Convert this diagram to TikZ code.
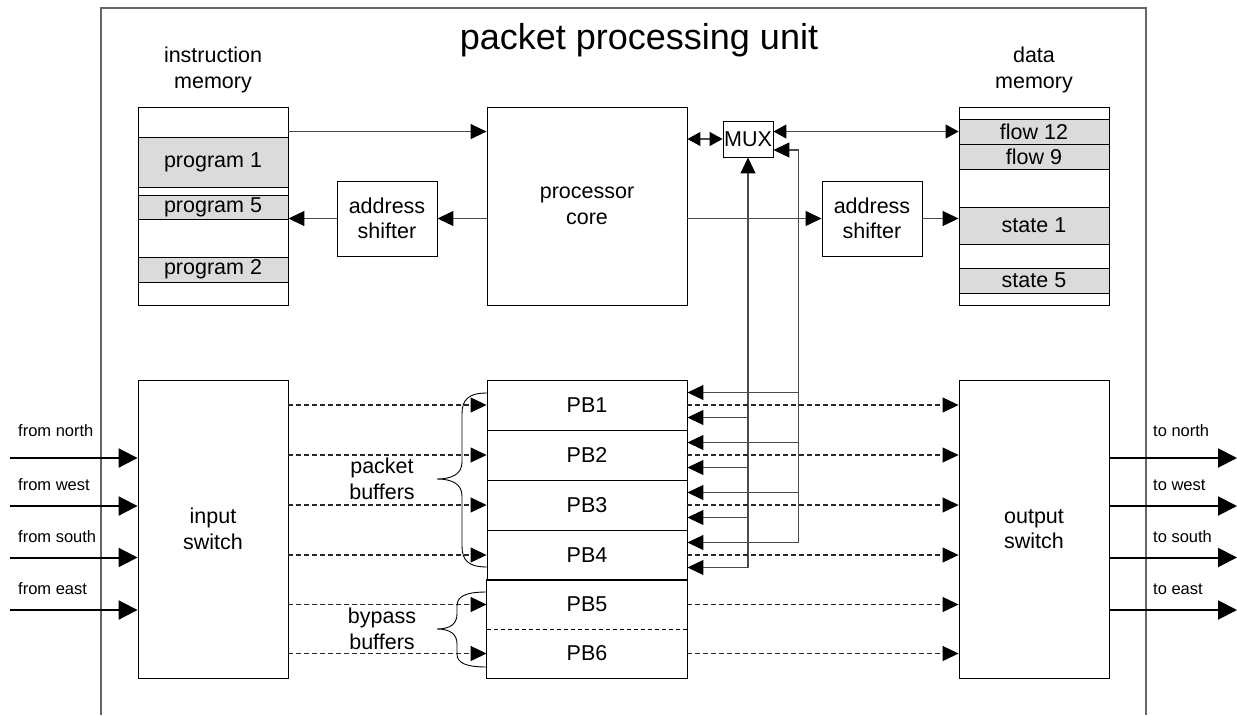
\documentclass[tikz,border=0pt]{standalone}
\usepackage{fontspec}
\setmainfont{Liberation Sans}
\usetikzlibrary{arrows.meta,calc}
\begin{document}
\begin{tikzpicture}[x=1pt,y=-1pt,
  box/.style={draw=black,line width=0.9pt,inner sep=0pt,font=\fontsize{21.5}{25.5}\selectfont,align=center},
  band/.style={box,fill=black!14},
  cl/.style={draw=black!70,line width=1.1pt},
  arr/.style={cl,-{Triangle[length=16pt,width=15pt,color=black]}},
  darr/.style={cl,{Triangle[length=13pt,width=14pt,color=black]}-{Triangle[length=13pt,width=14pt,color=black]}},
  dsh/.style={arr,draw=black!85,dash pattern=on 5pt off 3pt},
  big/.style={draw=black,line width=2pt,-{Triangle[length=19pt,width=19pt]}},
  lbl/.style={font=\fontsize{21.5}{26}\selectfont,align=center,inner sep=0pt},
  ttl/.style={font=\fontsize{36}{40}\selectfont,inner sep=0pt},
  sml/.style={font=\fontsize{16.5}{19}\selectfont,anchor=west,inner sep=0pt},
  brc/.style={draw=black,line width=0.9pt},
]
\useasboundingbox (0,0) rectangle (1237,715);
\fill[white] (0,0) rectangle (1237,715);
% outer unit
\draw[draw=black!60,line width=1.1pt] (101,715) -- (101,8) -- (1146,8) -- (1146,715);
\node[ttl] (title) at (639,40) {packet processing unit};
\node[lbl] (iml) at (213,70) {instruction\\memory};
\node[lbl] (dml) at (1034,70) {data\\memory};

% instruction memory
\node[box,minimum width=150pt,minimum height=198pt] (imem) at (213,206) {};
\node[band,minimum width=150pt,minimum height=50pt] (p1) at (213,162) {program 1};
\node[band,minimum width=150pt,minimum height=24pt] (p5) at (213,207) {program 5};
\node[band,minimum width=150pt,minimum height=25pt] (p2) at (213,269.5) {program 2};

% data memory
\node[box,minimum width=150pt,minimum height=198pt] (dmem) at (1034,206) {};
\node[band,minimum width=150pt,minimum height=25pt] (f12) at (1034,131.5) {flow 12};
\node[band,minimum width=150pt,minimum height=25pt] (f9) at (1034,156.5) {flow 9};
\node[band,minimum width=150pt,minimum height=37pt] (s1) at (1034,225.5) {state 1};
\node[band,minimum width=150pt,minimum height=25pt] (s5) at (1034,280.5) {state 5};

% core, mux, shifters
\node[box,minimum width=200pt,minimum height=198pt] (core) at (587,206) {processor\\core};
\node[box,minimum width=50pt,minimum height=36pt] (mux) at (748,139) {MUX};
\node[box,minimum width=100pt,minimum height=75pt] (shL) at (387,218.5) {address\\shifter};
\node[box,minimum width=100pt,minimum height=75pt] (shR) at (872,218.5) {address\\shifter};

% switches
\node[box,minimum width=150pt,minimum height=298pt] (insw) at (213,529) {input\\switch};
\node[box,minimum width=150pt,minimum height=298pt] (outsw) at (1034,529) {output\\switch};

% packet buffers
\node[box,minimum width=200pt,minimum height=50pt] (PB1) at (587,405) {PB1};
\node[box,minimum width=200pt,minimum height=50pt] (PB2) at (587,455) {PB2};
\node[box,minimum width=200pt,minimum height=50pt] (PB3) at (587,505) {PB3};
\node[box,minimum width=200pt,minimum height=50pt] (PB4) at (587,555) {PB4};
\node[box,draw=none,minimum width=200pt,minimum height=49pt] (PB5) at (587,604.5) {PB5};
\node[box,draw=none,minimum width=200pt,minimum height=49pt] (PB6) at (587,653.5) {PB6};
\draw[draw=black,line width=0.9pt] (PB5.north west) rectangle (PB6.south east);
\draw[draw=black,line width=0.8pt,dash pattern=on 4pt off 3pt] (PB5.south west) -- (PB5.south east);

% memory / core connections
\draw[arr] ([yshift=-25pt]imem.north east) -- ([yshift=-25pt]core.north west);
\draw[arr] (core.west |- shL) -- (shL.east);
\draw[arr] (shL.west) -- (imem.east |- shL);
\draw[darr] (core.east |- mux) -- (mux.west);
\draw[darr] (mux.east |- f12) -- (f12.west);
\draw[arr] (core.east |- shR) -- (shR.west);
\draw[arr] (shR.east) -- (dmem.west |- shR);

% feedback to packet buffers
\foreach \i in {1,2,3,4}{
  \coordinate (a\i) at ([yshift=-12.5pt]PB\i.east);
  \coordinate (b\i) at ([yshift=12.5pt]PB\i.east);
}
\coordinate (bt) at ([yshift=-11pt]mux.east);
\coordinate (bx) at ([xshift=25pt]mux.east);
\draw[arr] (mux.south |- a4) -- (mux.south);
\draw[arr] (bx |- b4) -- (bx |- bt) -- (bt);
\foreach \i in {1,2,3,4}{
  \draw[arr] (mux.south |- a\i) -- (a\i);
  \draw[arr] (bx |- b\i) -- (b\i);
}

% dashed data paths
\foreach \i in {1,...,6}{
  \draw[dsh] (insw.east |- PB\i) -- (PB\i.west);
  \draw[dsh] (PB\i.east) -- (outsw.west |- PB\i);
}

% braces
\draw[brc] (487,393) .. controls (468,393) and (462,400) .. (462,414)
  -- (462,462) .. controls (462,474) and (452,479) .. (437,479)
  .. controls (452,479) and (462,484) .. (462,496)
  -- (462,546) .. controls (462,560) and (468,567) .. (487,567);
\draw[brc] (487,592) .. controls (466,592) and (457,596) .. (457,606)
  -- (457,614) .. controls (457,624) and (450,629) .. (437,629)
  .. controls (450,629) and (457,634) .. (457,644)
  -- (457,654) .. controls (457,663) and (466,667) .. (487,667);
\node[lbl] (pbl) at (382,479) {packet\\buffers};
\node[lbl] (bbl) at (382,629) {bypass\\buffers};

% inputs and outputs
\coordinate (iN) at (10,458);
\coordinate (iW) at (10,506);
\coordinate (iS) at (10,557.5);
\coordinate (iE) at (10,610);
\coordinate (oN) at (1237,458);
\coordinate (oW) at (1237,506);
\coordinate (oS) at (1237,557.5);
\coordinate (oE) at (1237,610);
\draw[big] (iN) -- (insw.west |- iN);
\draw[big] (iW) -- (insw.west |- iW);
\draw[big] (iS) -- (insw.west |- iS);
\draw[big] (iE) -- (insw.west |- iE);
\draw[big] (outsw.east |- oN) -- (oN);
\draw[big] (outsw.east |- oW) -- (oW);
\draw[big] (outsw.east |- oS) -- (oS);
\draw[big] (outsw.east |- oE) -- (oE);
\node[sml] (ln) at (18,431) {from north};
\node[sml] (lw) at (18,485) {from west};
\node[sml] (ls) at (18,537) {from south};
\node[sml] (le) at (18,589) {from east};
\node[sml] (rn) at (1153,431) {to north};
\node[sml] (rw) at (1153,485) {to west};
\node[sml] (rs) at (1153,537) {to south};
\node[sml] (re) at (1153,589) {to east};
\end{tikzpicture}
\end{document}
